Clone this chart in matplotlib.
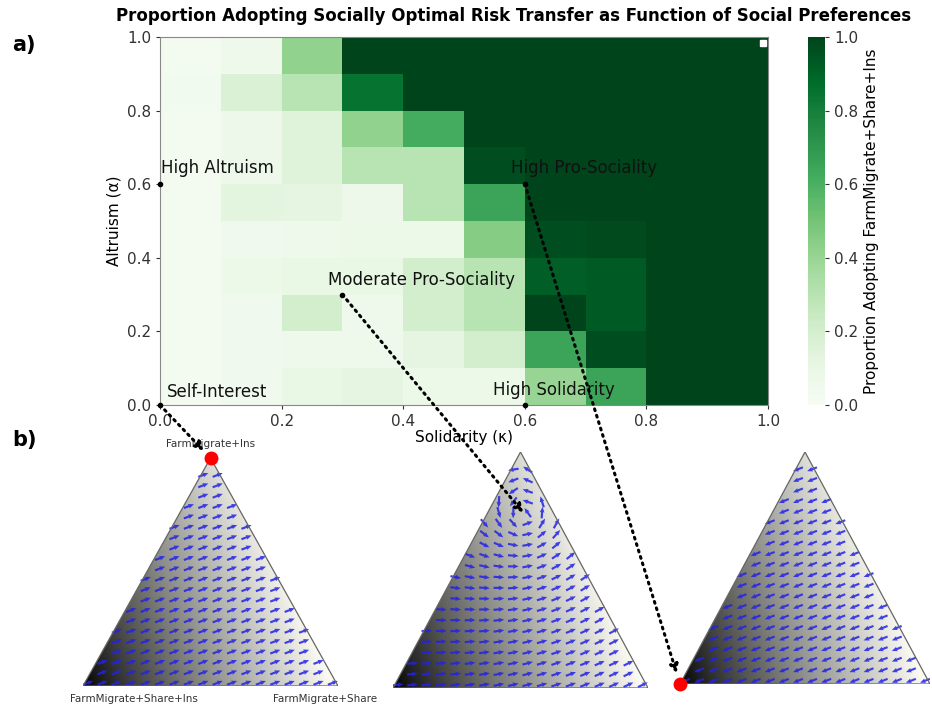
import numpy as np
import matplotlib
matplotlib.use("Agg")
import matplotlib.pyplot as plt
from matplotlib.patches import Polygon, ConnectionPatch

# ---------------------------------------------------------------- data
solidarity_edges = np.linspace(0.0, 1.0, 11)   # kappa
altruism_edges = np.linspace(0.0, 1.0, 11)     # alpha

# proportion adopting FarmMigrate+Share+Ins, rows = altruism bins (low -> high)
adoption = np.array([
    [0.03, 0.05, 0.10, 0.12, 0.08, 0.08, 0.40, 0.65, 1.00, 1.00],
    [0.03, 0.05, 0.06, 0.06, 0.12, 0.20, 0.65, 0.97, 1.00, 1.00],
    [0.03, 0.05, 0.20, 0.06, 0.20, 0.30, 1.00, 0.93, 1.00, 1.00],
    [0.03, 0.08, 0.10, 0.10, 0.20, 0.30, 0.92, 0.93, 1.00, 1.00],
    [0.03, 0.05, 0.06, 0.08, 0.08, 0.45, 0.97, 0.98, 1.00, 1.00],
    [0.03, 0.13, 0.12, 0.07, 0.30, 0.65, 1.00, 1.00, 1.00, 1.00],
    [0.03, 0.07, 0.15, 0.30, 0.30, 0.97, 1.00, 1.00, 1.00, 1.00],
    [0.03, 0.07, 0.15, 0.42, 0.62, 1.00, 1.00, 1.00, 1.00, 1.00],
    [0.04, 0.17, 0.30, 0.85, 1.00, 1.00, 1.00, 1.00, 1.00, 1.00],
    [0.03, 0.06, 0.42, 1.00, 1.00, 1.00, 1.00, 1.00, 1.00, 1.00],
])

# named preference profiles (kappa, alpha)
profile_names = ["High Altruism", "High Pro-Sociality", "Moderate Pro-Sociality",
                 "Self-Interest", "High Solidarity"]
profile_kappa = [0.0, 0.6, 0.3, 0.0, 0.6]
profile_alpha = [0.6, 0.6, 0.3, 0.0, 0.0]

# strategies at the simplex corners: bottom-left, bottom-right, top
strategies = ["FarmMigrate+Share+Ins", "FarmMigrate+Share", "FarmMigrate+Ins"]

# phase-portrait settings for the three example profiles:
# prevailing flow heading (degrees) and optional vortex (centre, strength)
flow_heading = [20.0, 20.0, 200.0]
vortex_centre = [None, (0.518, 0.635), None]
vortex_strength = [0.0, 0.28, 0.0]

# ---------------------------------------------------------------- figure
W, H = 932, 705
fig = plt.figure(figsize=(W / 100, H / 100), dpi=100)


def px_axes(x0, y0, x1, y1):
    return fig.add_axes([x0 / W, 1 - y1 / H, (x1 - x0) / W, (y1 - y0) / H])


# heat map ------------------------------------------------------------
ax = px_axes(160, 37, 768, 405)
im = ax.pcolormesh(solidarity_edges, altruism_edges, adoption,
                   cmap="Greens", vmin=0, vmax=1, shading="flat")
ax.set_xlim(0, 1)
ax.set_ylim(0, 1)
ax.set_xticks(np.arange(0, 1.01, 0.2))
ax.set_yticks(np.arange(0, 1.01, 0.2))
ax.tick_params(labelsize=11, length=3, colors="#333333")
ax.set_xlabel("Solidarity (κ)", fontsize=11, labelpad=1)
ax.set_ylabel("Altruism (α)", fontsize=11, labelpad=4)
for s in ax.spines.values():
    s.set_color("#888888")
    s.set_linewidth(0.8)
ax.plot([0.992], [0.985], marker="s", color="white", ms=4, clip_on=False)

label_offsets = {
    "High Altruism": (0.002, 0.045),
    "High Pro-Sociality": (-0.023, 0.045),
    "Moderate Pro-Sociality": (-0.024, 0.04),
    "Self-Interest": (0.012, 0.035),
    "High Solidarity": (-0.052, 0.04),
}
for name, k, a in zip(profile_names, profile_kappa, profile_alpha):
    ax.plot([k], [a], "o", color="black", ms=3, clip_on=False, zorder=5)
    dx, dy = label_offsets[name]
    ax.text(k + dx, a + dy, name, fontsize=12, color="#111111",
            ha="left", va="center", zorder=6)

cax = px_axes(808, 37, 825, 405)
cb = fig.colorbar(im, cax=cax)
cb.set_ticks(np.arange(0, 1.01, 0.2))
cb.ax.tick_params(labelsize=11, length=3, colors="#333333")
cb.set_label("Proportion Adopting FarmMigrate+Share+Ins", fontsize=11)
cb.outline.set_visible(False)

fig.text(514 / W, 1 - 16 / H,
         "Proportion Adopting Socially Optimal Risk Transfer as Function of Social Preferences",
         ha="center", va="center", fontsize=12, fontweight="heavy")
fig.text(12 / W, 1 - 45 / H, "a)", fontsize=15, fontweight="bold", va="center")
fig.text(12 / W, 1 - 440 / H, "b)", fontsize=15, fontweight="bold", va="center")

# simplex panels ------------------------------------------------------
h3 = np.sqrt(3) / 2
corners = np.array([[0.0, 0.0], [1.0, 0.0], [0.5, h3]])


def simplex_panel(box, heading, centre, strength, eq_point=None, labels=False):
    tax = px_axes(*box)
    tax.set_xlim(0, 1)
    tax.set_ylim(0, h3)
    tax.axis("off")
    tri = Polygon(corners, closed=True, fc="none", ec="#666666", lw=0.9,
                  zorder=4)
    tax.add_patch(tri)

    # grey shading, darkest at the bottom-left corner
    gx, gy = np.meshgrid(np.linspace(0, 1, 300), np.linspace(0, h3, 260))
    p = gx + gy * np.tan(np.deg2rad(22))
    g = np.clip(p, 0, 1) ** 0.85
    rgb = np.dstack([g, g, g * 0.97])
    img = tax.imshow(rgb, extent=[0, 1, 0, h3], origin="lower",
                     aspect="auto", zorder=1)
    img.set_clip_path(tri)

    # direction field on a regular grid
    xs, ys = np.meshgrid(np.linspace(0.02, 0.98, 18),
                         np.linspace(0.012, h3 - 0.025, 22))
    xs, ys = xs.ravel(), ys.ravel()
    keep = (ys < h3 * 2 * xs - 0.01) & (ys < h3 * 2 * (1 - xs) - 0.01)
    xs, ys = xs[keep], ys[keep]
    t = np.deg2rad(heading)
    u = np.full_like(xs, np.cos(t))
    v = np.full_like(xs, np.sin(t))
    if centre is not None:
        rx, ry = xs - centre[0], ys - centre[1]
        r = np.hypot(rx, ry) + 1e-9
        w = strength / r
        u = u - w * ry / r
        v = v + w * rx / r
    n = np.hypot(u, v)
    tax.quiver(xs, ys, u / n, v / n, color="#2222e6",
               angles="xy", scale_units="xy", scale=1 / 0.042, pivot="mid",
               width=0.0085, headwidth=2.2, headlength=2.6,
               headaxislength=2.4, alpha=0.85, zorder=3)

    if eq_point is not None:
        tax.plot(*eq_point, "o", color="red", ms=9, clip_on=False, zorder=6)
    if labels:
        tax.text(0.5, h3 + 0.035, strategies[2], fontsize=7.5, ha="center",
                 va="bottom", color="#333333")
        tax.text(0.2, -0.03, strategies[0], fontsize=7.5, ha="center",
                 va="top", color="#333333")
        tax.text(0.95, -0.03, strategies[1], fontsize=7.5, ha="center",
                 va="top", color="#333333")
    return tax


t1 = simplex_panel((83, 458, 338, 686), flow_heading[0], vortex_centre[0],
                   vortex_strength[0], eq_point=corners[2], labels=True)
t2 = simplex_panel((393, 452, 648, 688), flow_heading[1], vortex_centre[1],
                   vortex_strength[1])
t3 = simplex_panel((680, 452, 930, 684), flow_heading[2], vortex_centre[2],
                   vortex_strength[2], eq_point=corners[0])

# dotted links from preference profiles to their phase portraits
links = [((0.0, 0.0), t1, corners[2], 7),
         ((0.3, 0.3), t2, vortex_centre[1], 2),
         ((0.6, 0.6), t3, corners[0], 8)]
for start, tax, end, shrink in links:
    con = ConnectionPatch(xyA=start, coordsA=ax.transData,
                          xyB=end, coordsB=tax.transData,
                          arrowstyle="-|>", linestyle=(0, (0.6, 1.6)),
                          lw=2.2, color="black", mutation_scale=12,
                          shrinkB=shrink, zorder=10)
    con.set_capstyle("round")
    fig.add_artist(con)

fig.savefig("out.png", dpi=100)
